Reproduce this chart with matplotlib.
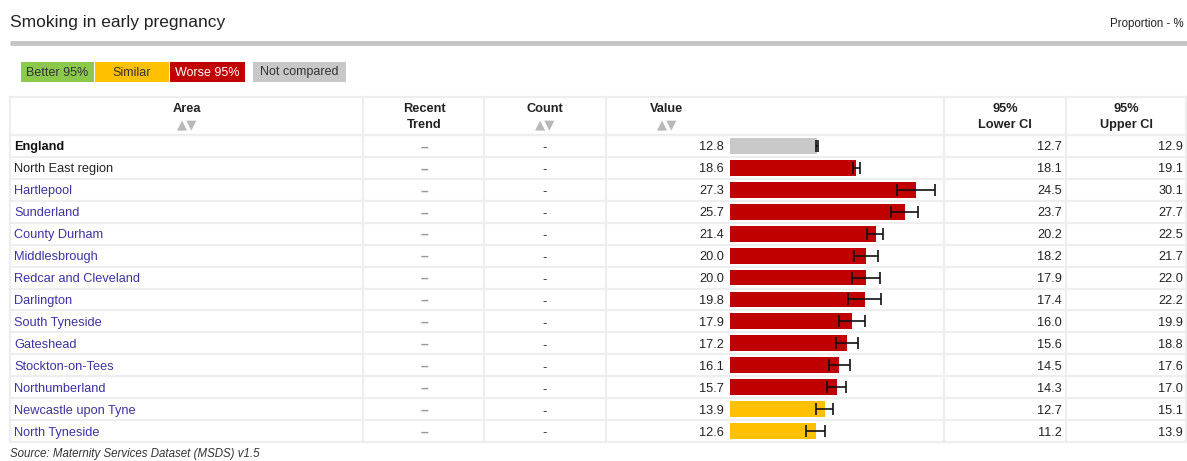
import matplotlib.pyplot as plt
from matplotlib.patches import Rectangle

plt.rcParams['font.family'] = ['Liberation Sans', 'DejaVu Sans']

areas = ['England', 'North East region', 'Hartlepool', 'Sunderland', 'County Durham',
         'Middlesbrough', 'Redcar and Cleveland', 'Darlington', 'South Tyneside',
         'Gateshead', 'Stockton-on-Tees', 'Northumberland', 'Newcastle upon Tyne',
         'North Tyneside']
values = [12.8, 18.6, 27.3, 25.7, 21.4, 20.0, 20.0, 19.8, 17.9, 17.2, 16.1, 15.7, 13.9, 12.6]
lower = [12.7, 18.1, 24.5, 23.7, 20.2, 18.2, 17.9, 17.4, 16.0, 15.6, 14.5, 14.3, 12.7, 11.2]
upper = [12.9, 19.1, 30.1, 27.7, 22.5, 21.7, 22.0, 22.2, 19.9, 18.8, 17.6, 17.0, 15.1, 13.9]
status = ['none', 'worse', 'worse', 'worse', 'worse', 'worse', 'worse', 'worse',
          'worse', 'worse', 'worse', 'worse', 'similar', 'similar']

colours = {'better': '#8cc84b', 'similar': '#ffc000', 'worse': '#c00000', 'none': '#c8c8c8'}
legend_items = [('Better 95%', 'better'), ('Similar', 'similar'),
                ('Worse 95%', 'worse'), ('Not compared', 'none')]

W, H = 1187, 461
fig = plt.figure(figsize=(W / 100, H / 100), dpi=100)
ax = fig.add_axes([0, 0, 1, 1])
ax.set_xlim(0, W)
ax.set_ylim(H, 0)
ax.axis('off')

fs = 9.2
line_col = '#eeeeee'

# title + header rule
ax.text(10, 22, 'Smoking in early pregnancy', fontsize=12.5, va='center', color='#222222')
ax.text(1184, 24, 'Proportion - %', fontsize=8.3, va='center', ha='right', color='#222222')
ax.plot([10, 1187], [43, 43], color='#c4c4c4', lw=3.5, solid_capstyle='butt')

# legend
leg_x = [21, 95, 170, 253]
leg_w = [73, 74, 75, 93]
for (lab, key), x0, w in zip(legend_items, leg_x, leg_w):
    ax.add_patch(Rectangle((x0, 62), w, 20, facecolor=colours[key], edgecolor='none'))
    ax.text(x0 + w / 2, 72.5, lab, fontsize=9, ha='center', va='center',
            color='white' if key == 'worse' else '#333333')

# table geometry
top, head_bot, bottom = 97, 135, 442
row_h = (bottom - head_bot) / len(areas)
cols = [10, 363, 484, 606, 944, 1066, 1186]

for x in cols:
    ax.plot([x, x], [top, bottom], color=line_col, lw=1.6)
ax.plot([10, 1186], [top, top], color=line_col, lw=1.6)
ax.plot([10, 1186], [head_bot, head_bot], color=line_col, lw=1.6)
for i in range(len(areas) + 1):
    y = head_bot + i * row_h
    ax.plot([10, 1186], [y, y], color=line_col, lw=1.6)

# header texts
hb = dict(fontsize=fs, fontweight='bold', ha='center', va='center', color='#222222')
ax.text(187, 109, 'Area', **hb)
ax.text(424, 109, 'Recent', **hb)
ax.text(424, 125, 'Trend', **hb)
ax.text(545, 109, 'Count', **hb)
ax.text(667, 109, 'Value', **hb)
ax.text(1005, 109, '95%', **hb)
ax.text(1005, 125, 'Lower CI', **hb)
ax.text(1126, 109, '95%', **hb)
ax.text(1126, 125, 'Upper CI', **hb)
for xc in [187, 545, 667]:
    ax.text(xc, 125, '▲▼', fontsize=9.5, ha='center', va='center', color='#b8b8b8',
            family=['DejaVu Sans'])

# rows
for i, name in enumerate(areas):
    yc = head_bot + (i + 0.5) * row_h + 1.5
    if i == 0:
        ax.text(14, yc, name, fontsize=fs, fontweight='bold', va='center', color='#111111')
    elif i == 1:
        ax.text(14, yc, name, fontsize=fs, va='center', color='#222222')
    else:
        ax.text(14, yc, name, fontsize=fs, va='center', color='#3b33a0')
    ax.text(424, yc, '–', fontsize=10, fontweight='bold', ha='center', va='center',
            color='#999999')
    ax.text(545, yc + 1, '-', fontsize=fs, ha='center', va='center', color='#222222')
    ax.text(724, yc, f'{values[i]:.1f}', fontsize=fs, ha='right', va='center', color='#222222')
    ax.text(1062, yc, f'{lower[i]:.1f}', fontsize=fs, ha='right', va='center', color='#222222')
    ax.text(1183, yc, f'{upper[i]:.1f}', fontsize=fs, ha='right', va='center', color='#222222')

# source
ax.text(10, 460, 'Source: Maternity Services Dataset (MSDS) v1.5', fontsize=8.3,
        style='italic', va='bottom', color='#333333')

# bars
bx0, bx1 = 730, 944
bax = fig.add_axes([bx0 / W, 1 - bottom / H, (bx1 - bx0) / W, (bottom - head_bot) / H])
bax.set_xlim(0, (bx1 - bx0) / 6.8)
bax.set_ylim(len(areas) - 0.5, -0.5)
bax.axis('off')
ypos = list(range(len(areas)))
bax.barh(ypos, values, height=0.72, color=[colours[s] for s in status])
err = [[v - l for v, l in zip(values, lower)], [u - v for v, u in zip(values, upper)]]
bax.errorbar(values, ypos, xerr=err, fmt='none', ecolor='#111111', elinewidth=1.2,
             capsize=4, capthick=1.2)

fig.savefig('out.png', dpi=100)
